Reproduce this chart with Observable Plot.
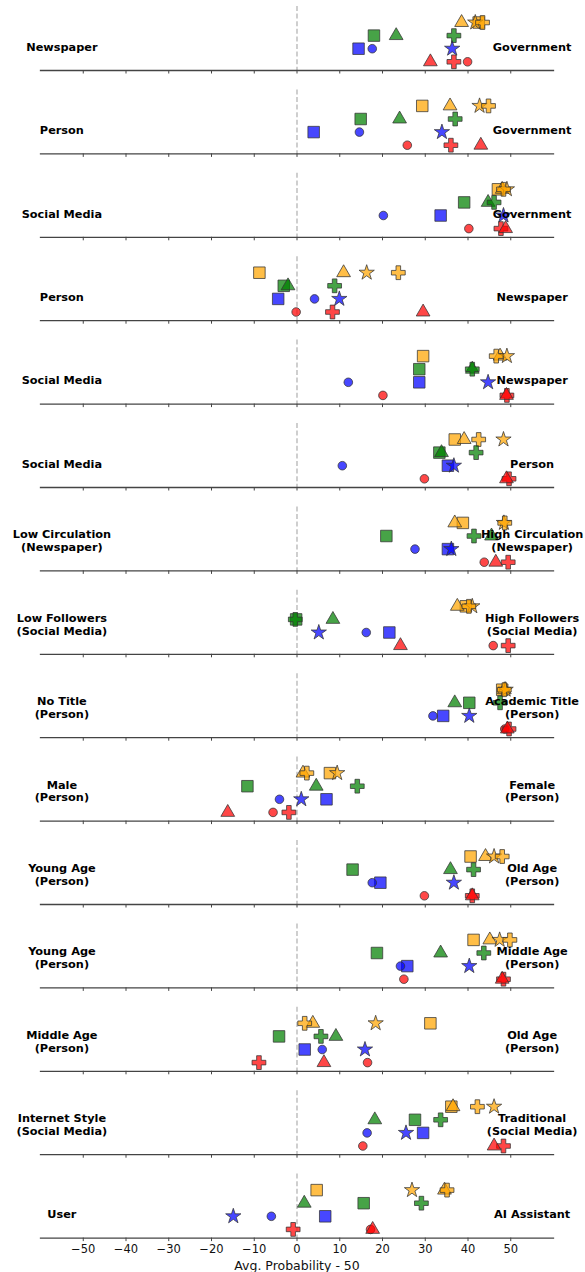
<!DOCTYPE html>
<html><head><meta charset="utf-8">
<script src="https://cdn.jsdelivr.net/npm/d3@7"></script>
<script src="https://cdn.jsdelivr.net/npm/@observablehq/plot@0.6"></script>
<style>body{margin:0;background:#fff;font-family:"DejaVu Sans",sans-serif;}</style>
</head><body><div id="chart"></div>
<script>
const leftLabels = ["Newspaper","Person","Social Media","Person","Social Media","Social Media","Low Circulation\n(Newspaper)","Low Followers\n(Social Media)","No Title\n(Person)","Male\n(Person)","Young Age\n(Person)","Young Age\n(Person)","Middle Age\n(Person)","Internet Style\n(Social Media)","User"];
const rightLabels = ["Government","Government","Government","Newspaper","Newspaper","Person","High Circulation\n(Newspaper)","High Followers\n(Social Media)","Academic Title\n(Person)","Female\n(Person)","Old Age\n(Person)","Middle Age\n(Person)","Old Age\n(Person)","Traditional\n(Social Media)","AI Assistant"];

const orangeSquare   = [42.5, 29.3, 47.0, -8.8, 29.5, 36.9, 38.8, 39.5, 48.0,   7.7, 40.6, 41.3, 31.2, 36.1,   4.6];
const orangeTriangle = [38.5, 35.8, 48.0, 10.9, 47.5, 39.1, 36.9, 37.5, 48.5,   1.4, 44.1, 45.1,  3.7, 36.5,  34.5];
const orangeStar     = [41.7, 42.7, 49.1, 16.3, 49.1, 48.3, 48.4, 41.0, 48.8,   9.4, 46.1, 47.4, 18.4, 46.1,  26.9];
const orangePlus     = [43.4, 44.8, 48.3, 23.7, 46.6, 42.5, 48.6, 40.2, 48.5,   2.3, 48.0, 49.8,  1.8, 42.2,  35.1];
const greenSquare    = [18.0, 14.9, 39.1, -3.1, 28.6, 33.3, 20.9, -0.2, 40.3, -11.6, 13.0, 18.7, -4.2, 27.6,  15.6];
const greenTriangle  = [23.2, 24.0, 44.7, -2.1, 41.0, 33.8, 45.5,  8.4, 36.9,   4.5, 35.9, 33.6,  9.1, 18.2,   1.7];
const greenPlus      = [36.7, 37.0, 46.1,  8.8, 41.0, 41.9, 41.4, -0.4, 47.5,  14.1, 41.3, 43.7,  5.6, 33.6,  29.1];
const blueSquare     = [14.4,  3.9, 33.6, -4.4, 28.6, 35.3, 35.3, 21.6, 34.2,   6.9, 19.5, 25.8,  1.8, 29.5,   6.6];
const blueCircle     = [17.6, 14.6, 20.2,  4.1, 12.0, 10.6, 27.6, 16.2, 31.8,  -4.1, 17.6, 24.2,  5.9, 16.4,  -6.0];
const blueStar       = [36.3, 33.9, 48.3,  9.9, 44.7, 36.7, 36.1,  5.1, 40.3,   1.0, 36.7, 40.3, 15.9, 25.5, -14.9];
const redCircle      = [39.9, 25.8, 40.2, -0.2, 20.1, 29.8, 43.8, 45.9, 48.6,  -5.6, 29.8, 25.0, 16.5, 15.4,  17.2];
const redPlus        = [36.7, 36.0, 47.7,  8.3, 49.1, 49.6, 49.4, 49.4, 49.6,  -1.9, 41.0, 48.3, -8.9, 48.3,  -0.9];
const redTriangle    = [31.2, 43.0, 48.8, 29.5, 49.0, 49.0, 46.5, 24.2, 49.2, -16.2, 41.0, 48.0,  6.3, 46.1,  17.7];

const xTicks = [-50, -40, -30, -20, -10, 0, 10, 20, 30, 40, 50];
const groups = ["orange", "green", "blue", "red"];
const xLabel = "Avg. Probability - 50";

const series = [
  {group: "orange", symbol: "square",   values: orangeSquare},
  {group: "orange", symbol: "triangle", values: orangeTriangle},
  {group: "orange", symbol: "star",     values: orangeStar},
  {group: "orange", symbol: "cross",    values: orangePlus},
  {group: "green",  symbol: "square",   values: greenSquare},
  {group: "green",  symbol: "triangle", values: greenTriangle},
  {group: "green",  symbol: "cross",    values: greenPlus},
  {group: "blue",   symbol: "square",   values: blueSquare},
  {group: "blue",   symbol: "circle",   values: blueCircle},
  {group: "blue",   symbol: "star",     values: blueStar},
  {group: "red",    symbol: "circle",   values: redCircle},
  {group: "red",    symbol: "cross",    values: redPlus},
  {group: "red",    symbol: "triangle", values: redTriangle}
];
const symbolR = {square: 6.5, triangle: 5.1, circle: 4.3, star: 4.8, cross: 5.8};

const rows = d3.range(leftLabels.length);
const leftTable = leftLabels.map((t, i) => ({row: i, text: t}));
const rightTable = rightLabels.map((t, i) => ({row: i, text: t}));
const labelOpts = {fy: "row", y: () => "blue", text: "text", fontWeight: "bold", fontSize: 11.3,
  lineHeight: 1.12, lineAnchor: "bottom", dy: 2, fill: "black", textAnchor: "middle"};

const dotMarks = series.map(s => Plot.dot(s.values.map((v, i) => ({row: i, value: v, group: s.group})), {
  x: "value", y: "group", fy: "row", symbol: () => s.symbol, r: symbolR[s.symbol],
  fill: s.group, fillOpacity: 0.72, stroke: "#333", strokeOpacity: 0.75, strokeWidth: 1
}));

const chart = Plot.plot({
  width: 585, height: 1272,
  marginLeft: 40, marginRight: 32, marginTop: 6, marginBottom: 34.4,
  style: {fontFamily: "DejaVu Sans", background: "white"},
  x: {domain: [-60, 60]},
  y: {type: "point", domain: groups, padding: 0.943, align: 0.648, round: false, axis: null},
  fy: {domain: rows, paddingInner: 0.2326, paddingOuter: 0, round: false, axis: null},
  symbol: {type: "identity"},
  marks: [
    Plot.ruleX([0], {stroke: "#b5b5b5", strokeDasharray: "5,2.6", strokeWidth: 1.3}),
    Plot.frame({anchor: "bottom", stroke: "#444", strokeWidth: 1.3}),
    Plot.axisX({ticks: xTicks, facetAnchor: null, tickSize: 3.5, stroke: "#444", tickFormat: () => "", label: null}),
    Plot.axisX({ticks: xTicks, tickSize: 0, tickPadding: 6.5, fontSize: 11.5, fill: "#111",
      tickFormat: d => String(d).replace("-", "\u2212"), label: null}),
    ...dotMarks,
    Plot.text(leftTable, {...labelOpts, x: () => -55}),
    Plot.text(rightTable, {...labelOpts, x: () => 55}),
    Plot.text([xLabel], {frameAnchor: "bottom", facet: "super", dy: 31.5, lineAnchor: "bottom", fontSize: 12.5, fill: "#111"})
  ]
});
document.getElementById("chart").appendChild(chart);
</script>
</body></html>
